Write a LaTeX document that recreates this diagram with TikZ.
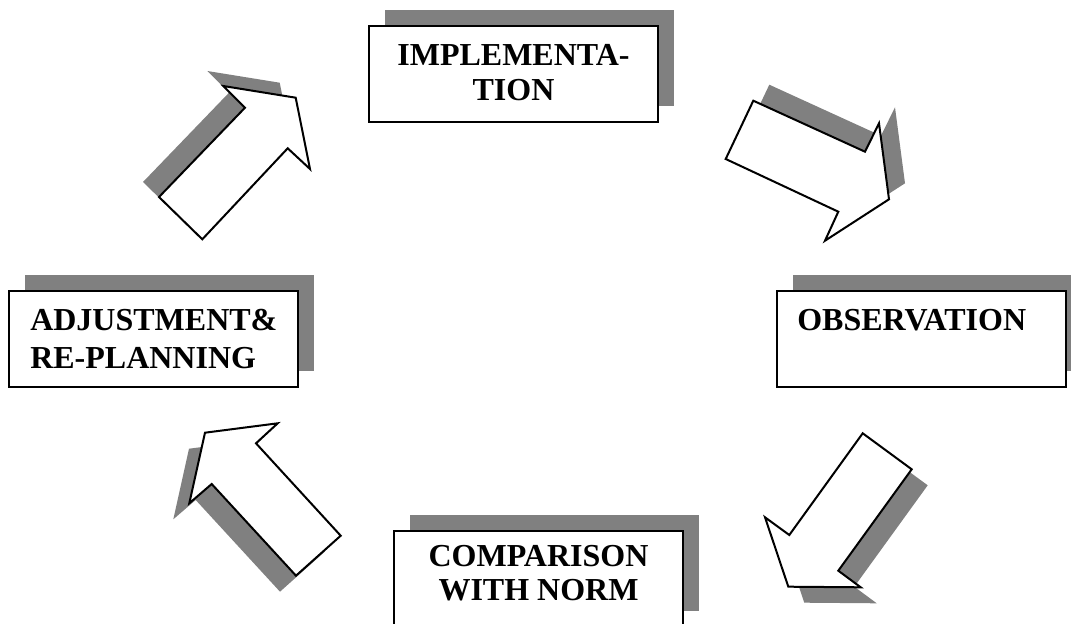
\documentclass[tikz,border=0pt]{standalone}
\usepackage{fontspec}
\setmainfont{Liberation Serif}
\usetikzlibrary{shadows}
\begin{document}
\begin{tikzpicture}[x=0.75pt,y=-0.75pt,
  shapeedge/.style={draw=black, line width=1.5pt, line join=miter, fill=white},
  castshadow/.style={fill=black!50, draw=none},
  stagebox/.style={shapeedge, minimum width=216.75pt, minimum height=72pt, inner sep=0pt,
    drop shadow={shadow xshift=12pt, shadow yshift=12pt, fill=black!50, opacity=1}},
  stagetext/.style={font=\fontsize{24}{28}\selectfont\bfseries, inner sep=0pt}]
\useasboundingbox (0,0) rectangle (1071,624);
\clip (0,0) rectangle (1071,624);

% shadows of the block arrows
\fill[castshadow, shift={(-16,-15)}] (159,197) -- (202.3,239.3) -- (287.7,148.3) -- (310,169) -- (295.7,97.7) -- (223.3,86) -- (245,107.7) -- cycle;
\fill[castshadow, shift={(16,-16)}] (753.3,100.7) -- (725.7,159) -- (838.3,211.7) -- (825,240.7) -- (889,199.3) -- (879,123.3) -- (865,151.7) -- cycle;
\fill[castshadow, shift={(16,16)}] (862.7,433.3) -- (911.7,469.3) -- (838.3,570.7) -- (860.7,587.3) -- (788.3,586.7) -- (765,517.3) -- (789.3,535) -- cycle;
\fill[castshadow, shift={(-16,16)}] (296,575.7) -- (340.7,535.7) -- (256,443.3) -- (277.7,423.3) -- (205,432.7) -- (189.3,503.3) -- (211.7,484) -- cycle;

% block arrows of the cycle
\path[shapeedge] (159,197) -- (202.3,239.3) -- (287.7,148.3) -- (310,169) -- (295.7,97.7) -- (223.3,86) -- (245,107.7) -- cycle;
\path[shapeedge] (753.3,100.7) -- (725.7,159) -- (838.3,211.7) -- (825,240.7) -- (889,199.3) -- (879,123.3) -- (865,151.7) -- cycle;
\path[shapeedge] (862.7,433.3) -- (911.7,469.3) -- (838.3,570.7) -- (860.7,587.3) -- (788.3,586.7) -- (765,517.3) -- (789.3,535) -- cycle;
\path[shapeedge] (296,575.7) -- (340.7,535.7) -- (256,443.3) -- (277.7,423.3) -- (205,432.7) -- (189.3,503.3) -- (211.7,484) -- cycle;

% stage boxes
\node[stagebox] (impl) at (513.5,74.5) {};
\node[stagebox] (adj) at (153.5,339) {};
\node[stagebox] (obs) at (921.5,339) {};
\node[stagebox] (cmp) at (538,579) {};

% stage labels
\node[stagetext, anchor=base] (implA) at (513.5,66) {IMPLEMENTA-};
\node[stagetext, anchor=base] (implB) at (513.5,101) {TION};
\node[stagetext, anchor=base west] (adjA) at (30,330) {ADJUSTMENT\&};
\node[stagetext, anchor=base west] (adjB) at (30,368) {RE-PLANNING};
\node[stagetext, anchor=base west] (obsA) at (797,330) {OBSERVATION};
\node[stagetext, anchor=base] (cmpA) at (538.5,566.5) {COMPARISON};
\node[stagetext, anchor=base] (cmpB) at (538.5,600) {WITH NORM};
\end{tikzpicture}
\end{document}
